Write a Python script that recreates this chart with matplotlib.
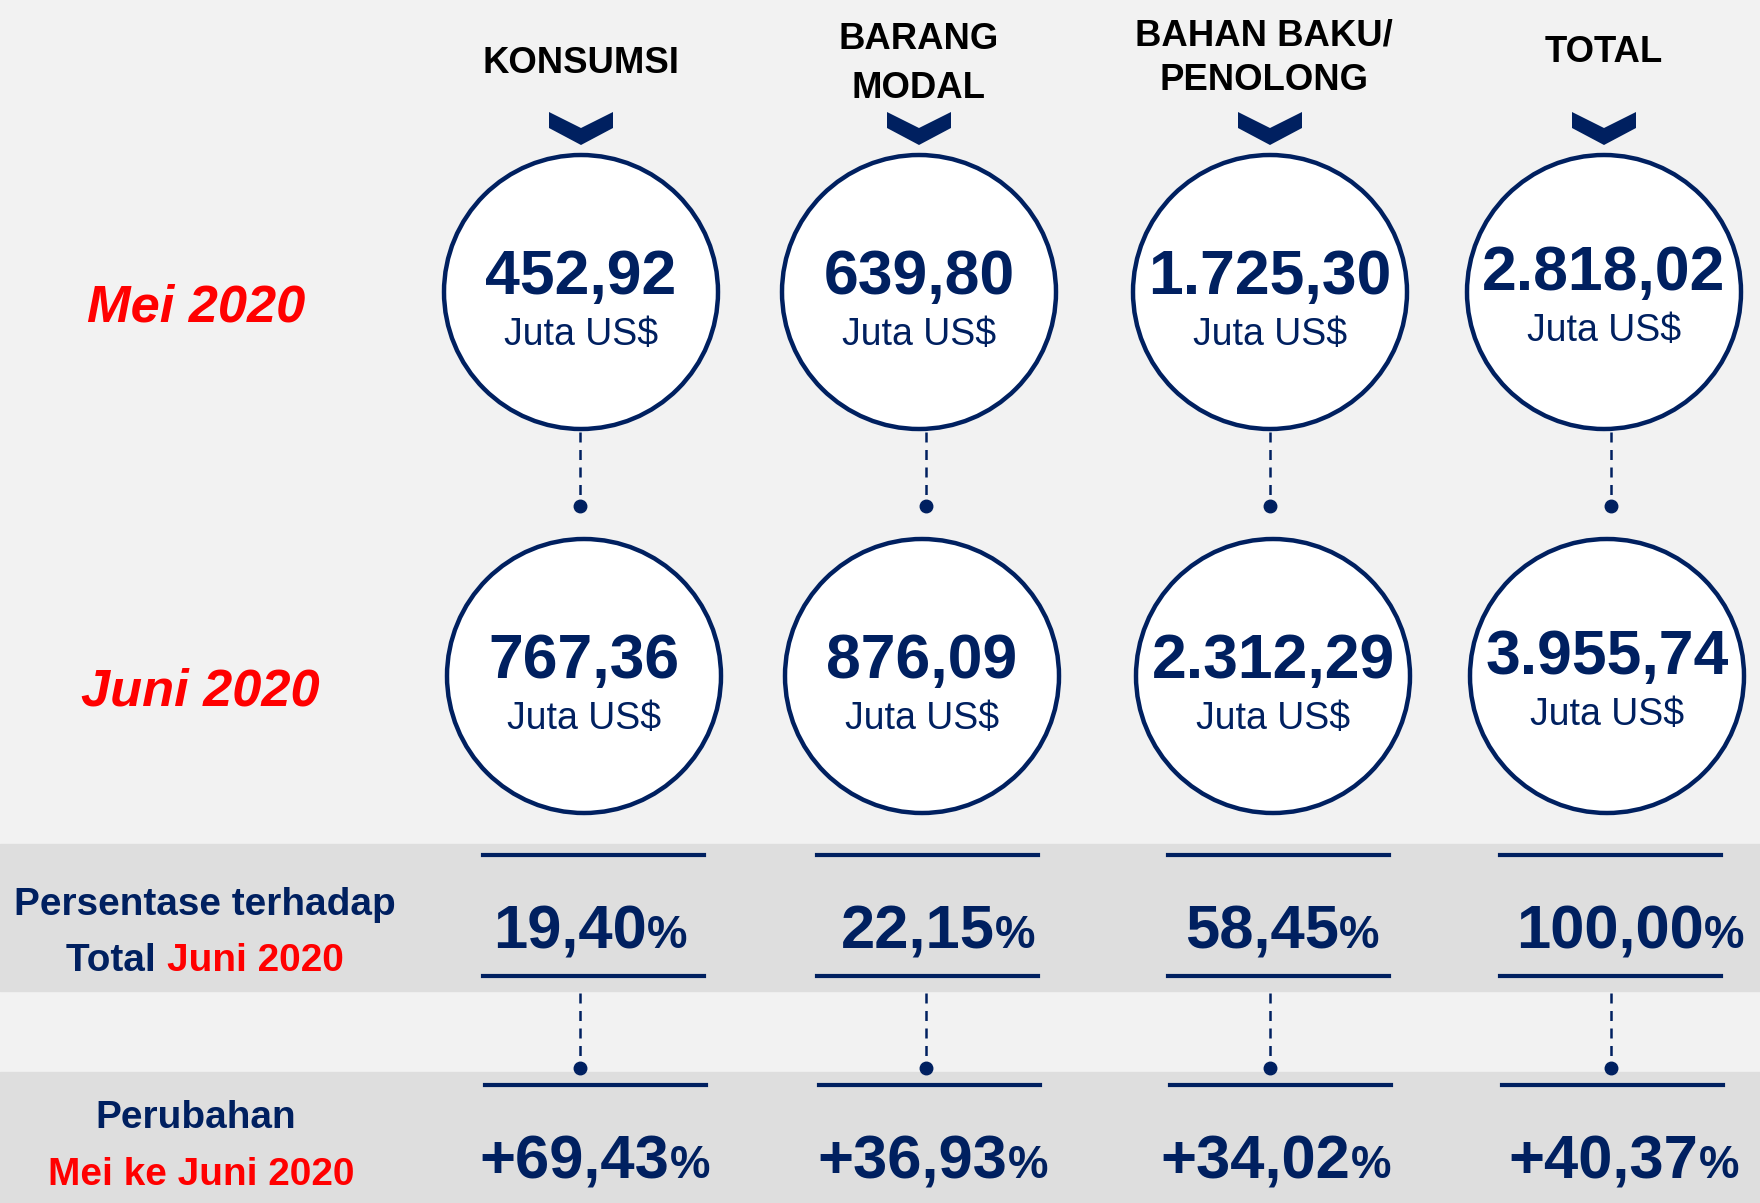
import matplotlib
matplotlib.use("Agg")
import matplotlib.pyplot as plt
from matplotlib import font_manager
from matplotlib.patches import Circle, Polygon, Rectangle

# data
categories = ["KONSUMSI", "BARANG\nMODAL", "BAHAN BAKU/\nPENOLONG", "TOTAL"]
mei_2020 = ["452,92", "639,80", "1.725,30", "2.818,02"]
juni_2020 = ["767,36", "876,09", "2.312,29", "3.955,74"]
share_juni = ["19,40", "22,15", "58,45", "100,00"]
change_mei_juni = ["+69,43", "+36,93", "+34,02", "+40,37"]
unit = "Juta US$"

NAVY = "#002060"
RED = "#ff0000"
BG = "#f2f2f2"
BAND = "#dedede"
SANS = ["Liberation Sans", "DejaVu Sans"]

# narrow font if one is installed, otherwise shrink the regular one
installed = {f.name for f in font_manager.fontManager.ttflist}
NARROW, K = SANS, 0.82
if "Liberation Sans Narrow" in installed:
    NARROW, K = ["Liberation Sans Narrow", "DejaVu Sans"], 1.0

W, H = 1760, 1203
fig = plt.figure(figsize=(W / 100, H / 100), dpi=100, facecolor=BG)
ax = fig.add_axes([0, 0, 1, 1])
ax.set_xlim(0, W)
ax.set_ylim(H, 0)
ax.axis("off")
r = fig.canvas.get_renderer()

# layout (pixels)
col_x = [581, 919, 1270, 1604]
juni_dx = 3
mei_y, juni_y, rad = 292, 676, 137
conn_x = [580, 926, 1270, 1611]
line_cx = [593, 927, 1278, 1610]
line_w = 221
share_tx = [590, 938, 1282, 1630]
change_tx = [595, 933, 1276, 1624]

# grey bands
ax.add_patch(Rectangle((0, 844), W, 147, color=BAND, zorder=0))
ax.add_patch(Rectangle((0, 1072), W, 131, color=BAND, zorder=0))


def row_text(xc, y, parts):
    """parts: list of (text, color, size); centred group in narrow bold"""
    arts, widths = [], []
    for txt, col, size in parts:
        t = ax.text(0, y, txt, color=col, fontsize=size * K, family=NARROW,
                    fontweight="bold", ha="left", va="baseline")
        arts.append(t)
        widths.append(t.get_window_extent(r).width)
    x = xc - sum(widths) / 2
    for t, w in zip(arts, widths):
        t.set_x(x)
        x += w


for i, name in enumerate(categories):
    cx = col_x[i]
    # header
    lines = name.split("\n")
    if len(lines) == 1:
        base = [73] if i == 0 else [62]
    else:
        base = [49, 98] if i == 1 else [45, 90]
    for ln, b in zip(lines, base):
        ax.text(cx - (6 if i == 2 else 0), b, ln, fontsize=32 * K, family=NARROW,
                fontweight="bold", color="black", ha="center", va="baseline")
    # chevron
    ax.add_patch(Polygon([(cx - 32, 112), (cx, 128), (cx + 32, 112), (cx + 32, 128),
                          (cx, 145), (cx - 32, 128)], closed=True, color=NAVY, lw=0))
    # circles
    for yc, dx, val in [(mei_y, 0, mei_2020[i]), (juni_y, juni_dx, juni_2020[i])]:
        lift = 4 if i == 3 else 0
        ax.add_patch(Circle((cx + dx, yc), rad, facecolor="white", edgecolor=NAVY,
                            lw=3.2, zorder=3))
        ax.text(cx + dx, yc + 2 - lift, val, fontsize=45, family=SANS,
                fontweight="bold", color=NAVY, ha="center", va="baseline", zorder=4)
        ax.text(cx + dx, yc + 53 - lift, unit, fontsize=27, family=SANS,
                color=NAVY, ha="center", va="baseline", zorder=4)
    # connectors
    for y0, y1 in [(432, 500), (993, 1062)]:
        ax.plot([conn_x[i], conn_x[i]], [y0, y1], color=NAVY, lw=1.8,
                ls=(0, (4, 3)), zorder=2)
        ax.plot(conn_x[i], y1 + 6, "o", color=NAVY, ms=9, zorder=2)
    # rules
    lx = line_cx[i]
    for y in [855, 976]:
        ax.plot([lx - line_w / 2, lx + line_w / 2], [y, y], color=NAVY, lw=3, zorder=2)
    ax.plot([lx + 2 - line_w / 2, lx + 2 + line_w / 2], [1085, 1085], color=NAVY,
            lw=3, zorder=2)
    # percentages
    row_text(share_tx[i], 948, [(share_juni[i], NAVY, 54), ("%", NAVY, 40)])
    row_text(change_tx[i], 1178, [(change_mei_juni[i], NAVY, 54), ("%", NAVY, 40)])

# row labels
for x, y, txt in [(196, 322, "Mei 2020"), (200, 706, "Juni 2020")]:
    ax.text(x, y, txt, fontsize=46 * K, family=NARROW, fontweight="bold",
            fontstyle="italic", color=RED, ha="center", va="baseline")
row_text(205, 915, [("Persentase terhadap", NAVY, 34)])
row_text(205, 971, [("Total ", NAVY, 34), ("Juni 2020", RED, 34)])
row_text(196, 1128, [("Perubahan", NAVY, 34)])
row_text(201, 1185, [("Mei ke Juni 2020", RED, 34)])

fig.savefig("out.png", dpi=100, facecolor=BG)
